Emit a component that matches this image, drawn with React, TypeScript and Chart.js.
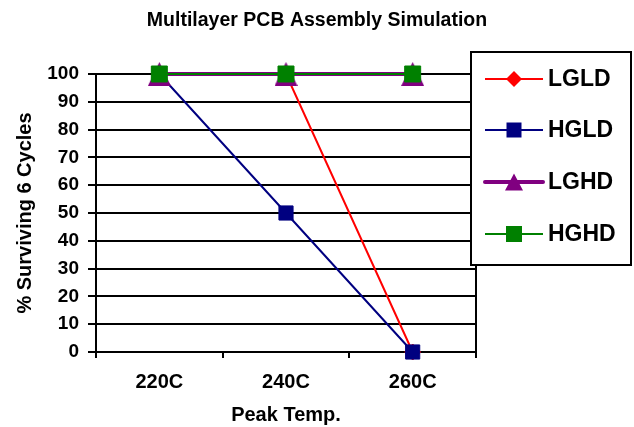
import React, { useEffect, useRef } from 'react';
import { Chart, registerables } from 'chart.js';

Chart.register(...registerables);

const categories = ['220C', '240C', '260C'];
const seriesNames = ['LGLD', 'HGLD', 'LGHD', 'HGHD'];
const lgldValues = [100, 100, 0];
const hgldValues = [100, 50, 0];
const lghdValues = [100, 100, 100];
const hghdValues = [100, 100, 100];
const seriesColors = ['#FF0000', '#000080', '#800080', '#008000'];
const yMin = 0;
const yMax = 100;
const yStep = 10;

const FONT = '"Liberation Sans", Arial, Helvetica, sans-serif';

function makeTriangle(w: number, h: number, fill: string): HTMLCanvasElement {
  const c = document.createElement('canvas');
  c.width = w;
  c.height = h;
  const ctx = c.getContext('2d')!;
  ctx.fillStyle = fill;
  ctx.beginPath();
  ctx.moveTo(w / 2, 0);
  ctx.lineTo(w, h);
  ctx.lineTo(0, h);
  ctx.closePath();
  ctx.fill();
  return c;
}

const legendPlugin = {
  id: 'customLegend',
  afterDraw(chart: any) {
    const ctx = chart.ctx as CanvasRenderingContext2D;
    const area = chart.chartArea;
    const bx = area.right - 5;
    const by = 52;
    const bw = 160;
    const bh = 213;
    ctx.save();
    ctx.fillStyle = '#FFFFFF';
    ctx.fillRect(bx, by, bw, bh);
    ctx.strokeStyle = '#000000';
    ctx.lineWidth = 2;
    ctx.strokeRect(bx, by, bw, bh);
    const rowY = [79, 130, 182, 234];
    const lx0 = bx + 14;
    const lx1 = bx + 72;
    const mx = bx + 43;
    seriesNames.forEach((name, i) => {
      const y = rowY[i];
      const col = seriesColors[i];
      ctx.strokeStyle = col;
      ctx.fillStyle = col;
      ctx.lineWidth = i === 2 ? 4 : 2;
      ctx.lineCap = i === 2 ? 'round' : 'butt';
      ctx.beginPath();
      ctx.moveTo(lx0, y);
      ctx.lineTo(lx1, y);
      ctx.stroke();
      ctx.beginPath();
      if (i === 0) {
        ctx.moveTo(mx - 8, y);
        ctx.lineTo(mx, y - 8);
        ctx.lineTo(mx + 8, y);
        ctx.lineTo(mx, y + 8);
        ctx.closePath();
        ctx.fill();
      } else if (i === 1) {
        ctx.fillRect(mx - 7.5, y - 7.5, 15, 15);
      } else if (i === 2) {
        ctx.moveTo(mx, y - 8.5);
        ctx.lineTo(mx + 9, y + 8.5);
        ctx.lineTo(mx - 9, y + 8.5);
        ctx.closePath();
        ctx.fill();
      } else {
        ctx.fillRect(mx - 8, y - 8, 16, 16);
      }
      ctx.fillStyle = '#000000';
      ctx.font = `bold 23px ${FONT}`;
      ctx.textAlign = 'left';
      ctx.textBaseline = 'middle';
      ctx.fillText(name, bx + 77, y + 1);
    });
    ctx.restore();
  },
};

export default function App() {
  const canvasRef = useRef<HTMLCanvasElement | null>(null);

  useEffect(() => {
    const canvas = canvasRef.current;
    if (!canvas) return;
    const triangle = makeTriangle(23, 24, seriesColors[2]);
    const chart = new Chart(canvas, {
      type: 'line',
      data: {
        labels: categories,
        datasets: [
          {
            label: seriesNames[0],
            data: lgldValues,
            borderColor: seriesColors[0],
            backgroundColor: seriesColors[0],
            borderWidth: 2,
            pointStyle: 'rectRot',
            pointRadius: 8,
            pointBorderWidth: 1,
            tension: 0,
            clip: false,
            order: 3,
          },
          {
            label: seriesNames[1],
            data: hgldValues,
            borderColor: seriesColors[1],
            backgroundColor: seriesColors[1],
            borderWidth: 2,
            pointStyle: 'rect',
            pointRadius: 10,
            pointBorderWidth: 1,
            tension: 0,
            clip: false,
            order: 2,
          },
          {
            label: seriesNames[2],
            data: lghdValues,
            borderColor: seriesColors[2],
            backgroundColor: seriesColors[2],
            borderWidth: 4,
            pointStyle: triangle,
            pointRadius: 12,
            tension: 0,
            clip: false,
            order: 1,
          },
          {
            label: seriesNames[3],
            data: hghdValues,
            borderColor: seriesColors[3],
            backgroundColor: seriesColors[3],
            borderWidth: 2,
            pointStyle: 'rect',
            pointRadius: 11.3,
            pointBorderWidth: 1,
            tension: 0,
            clip: false,
            order: 0,
          },
        ],
      },
      options: {
        responsive: false,
        animation: false,
        layout: { padding: 0 },
        plugins: {
          legend: { display: false },
          tooltip: { enabled: false },
          title: {
            display: true,
            text: 'Multilayer PCB Assembly Simulation',
            color: '#000000',
            font: { family: FONT, size: 19.5, weight: 'bold' },
            padding: { top: 9, bottom: 41.6 },
          },
        },
        scales: {
          x: {
            type: 'category',
            offset: true,
            grid: {
              display: true,
              offset: true,
              drawOnChartArea: false,
              drawTicks: true,
              tickLength: 6,
              color: '#000000',
              lineWidth: 2,
            },
            border: { display: true, color: '#000000', width: 2 },
            ticks: {
              color: '#000000',
              font: { family: FONT, size: 20, weight: 'bold' },
              padding: 12,
              maxRotation: 0,
            },
            title: {
              display: true,
              text: 'Peak Temp.',
              color: '#000000',
              font: { family: FONT, size: 20, weight: 'bold' },
              padding: { top: 0, bottom: 0 },
            },
            afterFit(scale: any) {
              scale.height = 75;
            },
          },
          y: {
            type: 'linear',
            position: 'left',
            min: yMin,
            max: yMax,
            grid: {
              display: true,
              drawTicks: true,
              tickLength: 8,
              color: '#000000',
              lineWidth: 2,
            },
            border: { display: true, color: '#000000', width: 2 },
            ticks: {
              stepSize: yStep,
              color: '#000000',
              font: { family: FONT, size: 19, weight: 'bold' },
              padding: 9,
            },
            title: {
              display: true,
              text: '% Surviving 6 Cycles',
              color: '#000000',
              font: { family: FONT, size: 20, weight: 'bold' },
              padding: { top: 13, bottom: 0 },
            },
            afterFit(scale: any) {
              scale.width = 96;
            },
          },
          y2: {
            type: 'linear',
            position: 'right',
            min: yMin,
            max: yMax,
            grid: { display: false, drawOnChartArea: false },
            border: { display: true, color: '#000000', width: 2 },
            ticks: { display: false },
            afterFit(scale: any) {
              scale.width = 158;
            },
          },
        },
      } as any,
      plugins: [legendPlugin],
    });
    return () => {
      chart.destroy();
    };
  }, []);

  return (
    <div style={{ position: 'fixed', left: 0, top: 0, width: 634, height: 427, background: '#FFFFFF' }}>
      <canvas ref={canvasRef} width={634} height={427} style={{ display: 'block', width: 634, height: 427 }} />
    </div>
  );
}
